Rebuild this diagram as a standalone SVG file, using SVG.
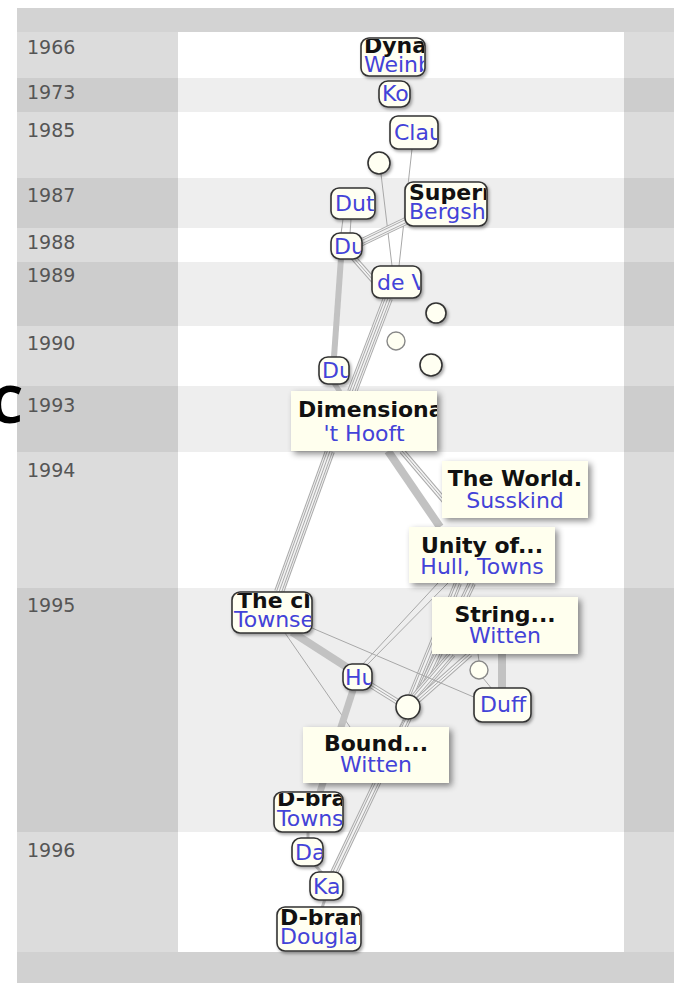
<svg xmlns="http://www.w3.org/2000/svg" xmlns:xlink="http://www.w3.org/1999/xlink" width="674" height="983" viewBox="0 0 674 983">
<style>
.yr{font-family:"DejaVu Sans",sans-serif;font-size:19px;fill:#555}
.t{font-family:"DejaVu Sans",sans-serif;font-size:22px;font-weight:bold;fill:#111}
.a{font-family:"DejaVu Sans",sans-serif;font-size:22px;fill:#4343d8}
.m{text-anchor:middle}
.sn{fill:#fffff2;stroke:#333;stroke-width:1.6;filter:url(#sh1)}
.ci{fill:#fffff2;stroke:#333;stroke-width:1.6;filter:url(#sh1)}
.cl{fill:#fffff2;stroke:#888;stroke-width:1.4}
.bn{fill:#ffffee;filter:url(#sh2)}
.ln{stroke:#a8a8a8;stroke-width:1;fill:none}
.th{stroke:#c2c2c2;fill:none}
.g10{stroke:#aaa;stroke-width:10;fill:none}
.g8{stroke:#aaa;stroke-width:8;fill:none}
.g6{stroke:#aaa;stroke-width:6;fill:none}
.g4{stroke:#aaa;stroke-width:4;fill:none}
.g1{stroke:#aaa;stroke-width:1;fill:none}
.w8{stroke:#f3f3f3;stroke-width:8;fill:none}
.w6{stroke:#f3f3f3;stroke-width:6;fill:none}
.w4{stroke:#f3f3f3;stroke-width:4;fill:none}
.w2{stroke:#f3f3f3;stroke-width:2;fill:none}
.lt{fill:#dcdcdc}.dk{fill:#cdcdcd}.lc{fill:#ffffff}.dc{fill:#eeeeee}
</style>
<defs>
<filter id="sh1" x="-30%" y="-30%" width="170%" height="170%"><feDropShadow dx="1.5" dy="2" stdDeviation="1.5" flood-color="#000" flood-opacity="0.35"/></filter>
<filter id="sh2" x="-20%" y="-30%" width="150%" height="170%"><feDropShadow dx="3" dy="3" stdDeviation="3" flood-color="#000" flood-opacity="0.45"/></filter>
<clipPath id="cDyna"><rect x="362" y="39" width="62" height="36" rx="7"/></clipPath>
<clipPath id="cKo"><rect x="380" y="82" width="29" height="24" rx="8"/></clipPath>
<clipPath id="cClau"><rect x="391" y="117" width="46" height="31" rx="7"/></clipPath>
<clipPath id="cDut"><rect x="332" y="189" width="42" height="29" rx="7"/></clipPath>
<clipPath id="cSup"><rect x="406" y="183" width="80" height="42" rx="7"/></clipPath>
<clipPath id="cDu88"><rect x="332" y="234" width="29" height="24" rx="8"/></clipPath>
<clipPath id="cDeV"><rect x="373" y="267" width="47" height="30" rx="7"/></clipPath>
<clipPath id="cDu90"><rect x="320" y="358" width="28" height="25" rx="8"/></clipPath>
<clipPath id="cDim"><rect x="291" y="391" width="146" height="60"/></clipPath>
<clipPath id="cThecl"><rect x="233" y="593" width="78" height="39" rx="7"/></clipPath>
<clipPath id="cHu"><rect x="344" y="665" width="27" height="24" rx="8"/></clipPath>
<clipPath id="cDbra"><rect x="275" y="793" width="67" height="38" rx="7"/></clipPath>
<clipPath id="cDa"><rect x="293" y="839" width="29" height="26" rx="8"/></clipPath>
<clipPath id="cKa"><rect x="311" y="873" width="31" height="26" rx="8"/></clipPath>
<clipPath id="cDbran"><rect x="278" y="908" width="82" height="42" rx="7"/></clipPath>
<path id="b3" d="M408 220 L358 244"/>
<path id="b6" d="M352 256 L388 297"/>
<path id="b7" d="M388 298 L352 392"/>
<path id="b9" d="M330 451 L279 592"/>
<path id="b11" d="M402 451 L448 505"/>
<path id="b13" d="M458 583 L412 696"/>
<path id="b14" d="M472 583 L334 873"/>
<path id="b15" d="M452 654 L414 698"/>
<path id="b15b" d="M470 654 L418 700"/>
<path id="b24" d="M369 684 L398 702"/>
</defs>

<g id="background">
<rect x="0" y="0" width="674" height="983" fill="#ffffff"/>
<rect x="17" y="8" width="657" height="24" fill="#d3d3d3"/>
<rect x="17" y="32" width="161" height="46" class="lt"/><rect x="178" y="32" width="446" height="46" class="lc"/><rect x="624" y="32" width="50" height="46" class="lt"/>
<rect x="17" y="78" width="161" height="34" class="dk"/><rect x="178" y="78" width="446" height="34" class="dc"/><rect x="624" y="78" width="50" height="34" class="dk"/>
<rect x="17" y="112" width="161" height="66" class="lt"/><rect x="178" y="112" width="446" height="66" class="lc"/><rect x="624" y="112" width="50" height="66" class="lt"/>
<rect x="17" y="178" width="161" height="50" class="dk"/><rect x="178" y="178" width="446" height="50" class="dc"/><rect x="624" y="178" width="50" height="50" class="dk"/>
<rect x="17" y="228" width="161" height="34" class="lt"/><rect x="178" y="228" width="446" height="34" class="lc"/><rect x="624" y="228" width="50" height="34" class="lt"/>
<rect x="17" y="262" width="161" height="64" class="dk"/><rect x="178" y="262" width="446" height="64" class="dc"/><rect x="624" y="262" width="50" height="64" class="dk"/>
<rect x="17" y="326" width="161" height="60" class="lt"/><rect x="178" y="326" width="446" height="60" class="lc"/><rect x="624" y="326" width="50" height="60" class="lt"/>
<rect x="17" y="386" width="161" height="66" class="dk"/><rect x="178" y="386" width="446" height="66" class="dc"/><rect x="624" y="386" width="50" height="66" class="dk"/>
<rect x="17" y="452" width="161" height="136" class="lt"/><rect x="178" y="452" width="446" height="136" class="lc"/><rect x="624" y="452" width="50" height="136" class="lt"/>
<rect x="17" y="588" width="161" height="244" class="dk"/><rect x="178" y="588" width="446" height="244" class="dc"/><rect x="624" y="588" width="50" height="244" class="dk"/>
<rect x="17" y="832" width="161" height="120" class="lt"/><rect x="178" y="832" width="446" height="120" class="lc"/><rect x="624" y="832" width="50" height="120" class="lt"/>
<rect x="17" y="952" width="657" height="31" fill="#d1d1d1"/>
</g>

<g id="years">
<text class="yr" x="27" y="54">1966</text>
<text class="yr" x="27" y="99">1973</text>
<text class="yr" x="27" y="137">1985</text>
<text class="yr" x="27" y="202">1987</text>
<text class="yr" x="27" y="249">1988</text>
<text class="yr" x="27" y="282">1989</text>
<text class="yr" x="27" y="350">1990</text>
<text class="yr" x="27" y="412">1993</text>
<text class="yr" x="27" y="477">1994</text>
<text class="yr" x="27" y="612">1995</text>
<text class="yr" x="27" y="857">1996</text>
</g>
<text x="-10" y="423" font-family="Open Sans, sans-serif" font-size="52" font-weight="bold" fill="#000">C</text>

<g id="connectors">
<path class="ln" d="M412 149 L399 266"/>
<path class="ln" d="M381 174 L392 266"/>
<g><use xlink:href="#b3" class="g8"/><use xlink:href="#b3" class="w6"/><use xlink:href="#b3" class="g4"/><use xlink:href="#b3" class="w2"/></g>
<path class="ln" d="M343 219 L341 234"/>
<path class="ln" d="M351 219 L350 234"/>
<path class="th" stroke-width="6" d="M341 258 L334 357"/>
<g><use xlink:href="#b6" class="g6"/><use xlink:href="#b6" class="w4"/><use xlink:href="#b6" class="g1"/></g>
<g><use xlink:href="#b7" class="g10"/><use xlink:href="#b7" class="w8"/><use xlink:href="#b7" class="g6"/><use xlink:href="#b7" class="w4"/><use xlink:href="#b7" class="g1"/></g>
<path class="th" stroke-width="5" d="M334 383 L340 392"/>
<g><use xlink:href="#b9" class="g10"/><use xlink:href="#b9" class="w8"/><use xlink:href="#b9" class="g6"/><use xlink:href="#b9" class="w4"/><use xlink:href="#b9" class="g1"/></g>
<path class="th" stroke-width="8" d="M388 451 L440 527"/>
<g><use xlink:href="#b11" class="g6"/><use xlink:href="#b11" class="w4"/><use xlink:href="#b11" class="g1"/></g>
<path class="ln" d="M438 583 L362 665"/>
<path class="ln" d="M448 583 L366 666"/>
<g><use xlink:href="#b13" class="g8"/><use xlink:href="#b13" class="w6"/><use xlink:href="#b13" class="g4"/><use xlink:href="#b13" class="w2"/></g>
<g><use xlink:href="#b14" class="g8"/><use xlink:href="#b14" class="w6"/><use xlink:href="#b14" class="g4"/><use xlink:href="#b14" class="w2"/></g>
<g><use xlink:href="#b15" class="g8"/><use xlink:href="#b15" class="w6"/><use xlink:href="#b15" class="g4"/><use xlink:href="#b15" class="w2"/></g>
<g><use xlink:href="#b15b" class="g6"/><use xlink:href="#b15b" class="w4"/><use xlink:href="#b15b" class="g1"/></g>
<path class="ln" d="M478 654 L479 661"/>
<path class="ln" d="M483 678 L492 689"/>
<path class="th" stroke-width="8" stroke="#cfcfcf" d="M502 654 L502 688"/>
<path class="th" stroke-width="8" d="M292 632 L348 668"/>
<path class="ln" d="M312 628 L476 698"/>
<path class="ln" d="M285 633 L350 727"/>
<path class="th" stroke-width="7" d="M353 690 L320 792"/>
<g><use xlink:href="#b24" class="g6"/><use xlink:href="#b24" class="w4"/><use xlink:href="#b24" class="g1"/></g>
<path class="ln" d="M405 718 L400 727"/>
<path class="th" stroke-width="3" d="M308 832 L308 839"/>
<path class="th" stroke-width="3" d="M314 864 L322 873"/>
<path class="th" stroke-width="3" d="M325 899 L322 908"/>
</g>

<g id="n-dyna"><rect class="sn" x="361" y="38" width="64" height="38" rx="8"/><g clip-path="url(#cDyna)"><text class="t" x="364" y="53">Dyna</text><text class="a" x="364" y="72">Weinb</text></g></g>
<g id="n-ko"><rect class="sn" x="379" y="81" width="31" height="26" rx="9"/><g clip-path="url(#cKo)"><text class="a" x="382" y="101">Ko</text></g></g>
<g id="n-clau"><rect class="sn" x="390" y="116" width="48" height="33" rx="8"/><g clip-path="url(#cClau)"><text class="a" x="394" y="140">Clau</text></g></g>
<g id="n-c1"><circle class="ci" cx="379" cy="163" r="11"/></g>
<g id="n-dut"><rect class="sn" x="331" y="188" width="44" height="31" rx="8"/><g clip-path="url(#cDut)"><text class="a" x="335" y="211">Dut</text></g></g>
<g id="n-super"><rect class="sn" x="405" y="182" width="82" height="44" rx="8"/><g clip-path="url(#cSup)"><text class="t" x="409" y="200">Supern</text><text class="a" x="409" y="219">Bergsh</text></g></g>
<g id="n-du88"><rect class="sn" x="331" y="233" width="31" height="26" rx="9"/><g clip-path="url(#cDu88)"><text class="a" x="334" y="254">Du</text></g></g>
<g id="n-dev"><rect class="sn" x="372" y="266" width="49" height="32" rx="8"/><g clip-path="url(#cDeV)"><text class="a" x="377" y="290">de V</text></g></g>
<g id="n-c2"><circle class="ci" cx="436" cy="313" r="10"/></g>
<g id="n-c3"><circle class="cl" cx="396" cy="341" r="9"/></g>
<g id="n-c4"><circle class="ci" cx="431" cy="365" r="11"/></g>
<g id="n-du90"><rect class="sn" x="319" y="357" width="30" height="27" rx="9"/><g clip-path="url(#cDu90)"><text class="a" x="322" y="378">Du</text></g></g>
<g id="n-dim"><rect class="bn" x="291" y="391" width="146" height="60"/><g clip-path="url(#cDim)"><text class="t" x="298" y="417">Dimensiona</text><text class="a m" x="364" y="441">'t Hooft</text></g></g>
<g id="n-world"><rect class="bn" x="442" y="461" width="146" height="57"/><text class="t m" x="515" y="486">The World.</text><text class="a m" x="515" y="508">Susskind</text></g>
<g id="n-unity"><rect class="bn" x="409" y="527" width="146" height="56"/><text class="t m" x="482" y="553">Unity of...</text><text class="a m" x="482" y="574">Hull, Towns</text></g>
<g id="n-thecl"><rect class="sn" x="232" y="592" width="80" height="41" rx="8"/><g clip-path="url(#cThecl)"><text class="t" x="237" y="608">The cl</text><text class="a" x="234" y="627">Townse</text></g></g>
<g id="n-string"><rect class="bn" x="432" y="597" width="146" height="57"/><text class="t m" x="505" y="622">String...</text><text class="a m" x="505" y="643">Witten</text></g>
<g id="n-hu"><rect class="sn" x="343" y="664" width="29" height="26" rx="9"/><g clip-path="url(#cHu)"><text class="a" x="345" y="685">Hu</text></g></g>
<g id="n-c5"><circle class="cl" cx="479" cy="670" r="9"/></g>
<g id="n-duff"><rect class="sn" x="474" y="688" width="57" height="34" rx="8"/><text class="a" x="480" y="712">Duff</text></g>
<g id="n-c6"><circle class="ci" cx="408" cy="707" r="12"/></g>
<g id="n-bound"><rect class="bn" x="303" y="727" width="146" height="56"/><text class="t m" x="376" y="751">Bound...</text><text class="a m" x="376" y="772">Witten</text></g>
<g id="n-dbra"><rect class="sn" x="274" y="792" width="69" height="40" rx="8"/><g clip-path="url(#cDbra)"><text class="t" x="277" y="806">D-bra</text><text class="a" x="277" y="826">Towns</text></g></g>
<g id="n-da"><rect class="sn" x="292" y="838" width="31" height="28" rx="9"/><g clip-path="url(#cDa)"><text class="a" x="295" y="860">Da</text></g></g>
<g id="n-ka"><rect class="sn" x="310" y="872" width="33" height="28" rx="9"/><g clip-path="url(#cKa)"><text class="a" x="313" y="894">Ka</text></g></g>
<g id="n-dbran"><rect class="sn" x="277" y="907" width="84" height="44" rx="8"/><g clip-path="url(#cDbran)"><text class="t" x="280" y="925">D-bran</text><text class="a" x="280" y="944">Dougla</text></g></g>
</svg>
